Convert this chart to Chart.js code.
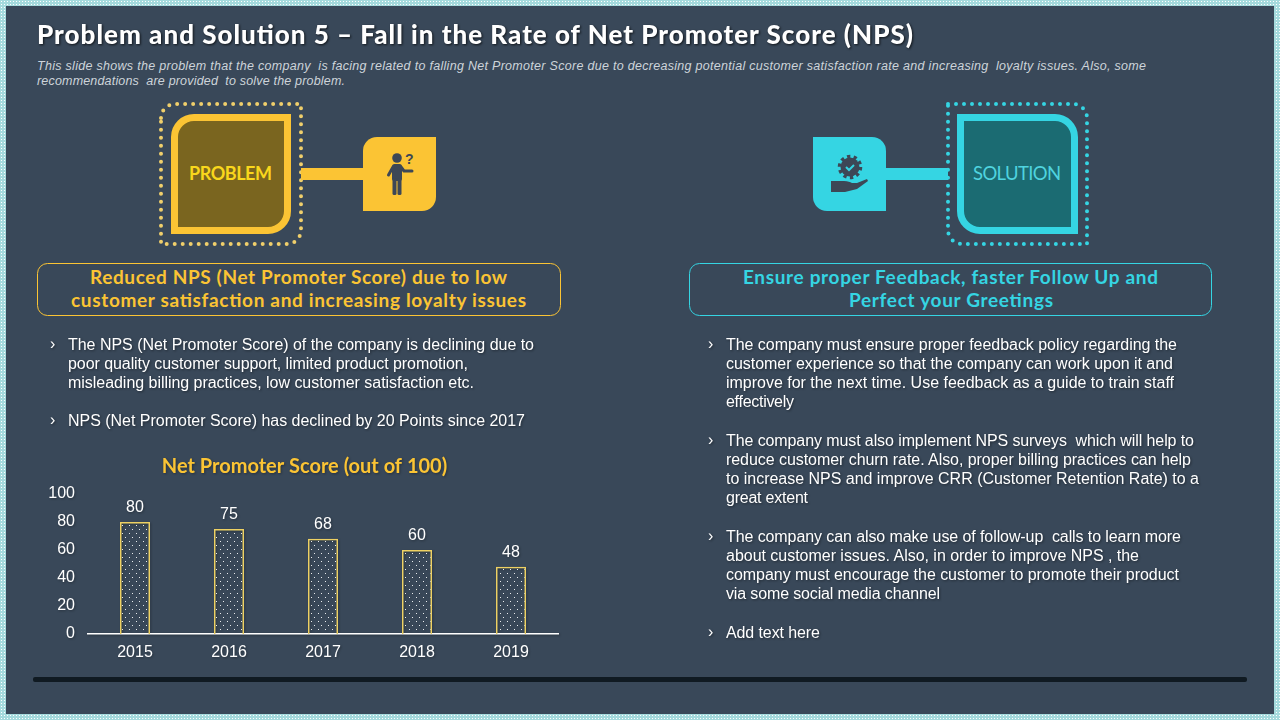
<!DOCTYPE html>
<html>
<head>
<meta charset="utf-8">
<style>
  html, body { margin: 0; padding: 0; width: 1280px; height: 720px; overflow: hidden; background: #a5dadd; }
  #frame { position: absolute; left: 0; top: 0; width: 1280px; height: 720px;
    background-image: radial-gradient(#ffffff 0.7px, transparent 0.8px); background-size: 3px 3px; }
  #panel { position: absolute; left: 6px; top: 6px; width: 1268px; height: 708px; background: #394859; }
  svg { position: absolute; left: 0; top: 0; }
  svg text { white-space: pre; font-feature-settings: "liga" 0, "clig" 0, "dlig" 0; }
  .body { font: 16px "Liberation Sans", sans-serif; fill: #fff; filter: drop-shadow(1px 1px 1px rgba(0,0,0,.4)); }
  .title { font: 900 26px Lato, sans-serif; fill: #fff; filter: drop-shadow(1px 1px 1px rgba(0,0,0,.7)); }
  .desc { font: italic 12.5px "Liberation Sans", sans-serif; fill: #cdd4da; }
  .head { font: 700 19px Lato, sans-serif; }
  .tag { font: 700 18px Lato, sans-serif; }
  .tag2 { font: 400 18.5px Lato, sans-serif; }
  #chart { position: absolute; left: 30px; top: 452px; filter: drop-shadow(1px 1px 1px rgba(0,0,0,.3)); }
</style>
</head>
<body>
<div id="frame"></div>
<div id="panel"></div>
<svg id="art" width="1280" height="720" xmlns="http://www.w3.org/2000/svg">
  <!-- problem badge -->
  <path d="M161 118a14 14 0 0 1 14-14H301V230a14 14 0 0 1-14 14H161Z" fill="none" stroke="#f0cf6b" stroke-width="4" stroke-linecap="round" stroke-dasharray="0 8"/>
  <path d="M174.500 137a19.500 19.500 0 0 1 19.500-19.500H287.500V211a19.500 19.500 0 0 1-19.500 19.500H174.500Z" fill="#7a651f" stroke="#fbc434" stroke-width="7"/>
  <rect x="301" y="168" width="64" height="12" fill="#fbc434"/>
  <path d="M363 151a14 14 0 0 1 14-14H436V197a14 14 0 0 1-14 14H363Z" fill="#fbc434"/>
  <g fill="#3d4756" stroke="none">
    <circle cx="397" cy="158" r="4.800"/>
    <rect x="392" y="164" width="10" height="17" rx="2.500"/>
    <path d="M393 167L388.500 175M401 167L404 171H412" fill="none" stroke="#3d4756" stroke-width="3" stroke-linecap="round" stroke-linejoin="round"/>
    <rect x="392.500" y="178" width="4" height="17" rx="1.500"/>
    <rect x="397.500" y="178" width="4" height="17" rx="1.500"/>
    <text x="405" y="164" style="font:700 14px 'Liberation Sans',sans-serif">?</text>
  </g>
  <!-- solution badge -->
  <path d="M948 104H1073a14 14 0 0 1 14 14V244H962a14 14 0 0 1-14-14Z" fill="none" stroke="#35d5e3" stroke-width="4" stroke-linecap="round" stroke-dasharray="0 8"/>
  <path d="M960.500 117.500H1055a19.500 19.500 0 0 1 19.500 19.500V230.500H980a19.500 19.500 0 0 1-19.500-19.500Z" fill="#1b6b72" stroke="#35d5e3" stroke-width="7"/>
  <rect x="884" y="168" width="64" height="12" fill="#35d5e3"/>
  <path d="M813 137H872a14 14 0 0 1 14 14V211H827a14 14 0 0 1-14-14Z" fill="#35d5e3"/>
  <g fill="#3d4756">
    <circle cx="850" cy="167" r="9.500"/>
    <circle cx="850" cy="167" r="10.500" fill="none" stroke="#3d4756" stroke-width="3.500" stroke-dasharray="3.300 3.300"/>
    <path d="M846 167l3 3 5-5" fill="none" stroke="#35d5e3" stroke-width="2"/>
    <path d="M831 181h13c4 0 6 1 8 2h5l10-4 1 2-11 8-12 3H831Z"/>
  </g>
  <!-- callout boxes -->
  <rect x="37.500" y="263.500" width="523" height="52" rx="10" fill="none" stroke="#fbc434"/>
  <rect x="689.500" y="263.500" width="522" height="52" rx="10" fill="none" stroke="#35d5e3"/>
  <!-- footer rule -->
  <rect x="33" y="677" width="1214" height="5" rx="2" fill="#101a22"/>
</svg>
<canvas id="chart" width="548" height="218"></canvas>
<script src="https://cdn.jsdelivr.net/npm/chart.js@4"></script>
<script>
const years = ['2015', '2016', '2017', '2018', '2019'];
const scores = [80, 75, 68, 60, 48];
const yMax = 100;
const yStep = 20;
const chartTitle = 'Net Promoter Score (out of 100)';

// [text, left, right, vertical centre]
const bodyLines = [
  ['The NPS (Net Promoter Score) of the company is declining due to', 68, 534, 344],
  ['poor quality customer support, limited product promotion,', 68, 468, 363],
  ['misleading billing practices, low customer satisfaction etc.', 68, 474, 382],
  ['NPS (Net Promoter Score) has declined by 20 Points since 2017', 68, 525, 420],
  ['The company must ensure proper feedback policy regarding the', 726, 1177, 344],
  ['customer experience so that the company can work upon it and', 726, 1173, 363],
  ['improve for the next time. Use feedback as a guide to train staff', 726, 1174, 382],
  ['effectively', 726, 794, 401],
  ['The company must also implement NPS surveys  which will help to', 726, 1194, 440],
  ['reduce customer churn rate. Also, proper billing practices can help', 726, 1191, 459],
  ['to increase NPS and improve CRR (Customer Retention Rate) to a', 726, 1199, 478],
  ['great extent', 726, 808, 497],
  ['The company can also make use of follow-up  calls to learn more', 726, 1181, 536],
  ['about customer issues. Also, in order to improve NPS , the', 726, 1139, 555],
  ['company must encourage the customer to promote their product', 726, 1179, 574],
  ['via some social media channel', 726, 940, 593],
  ['Add text here', 726, 820, 632]
];
const bullets = [[50, 344], [50, 420], [708, 344], [708, 440], [708, 536], [708, 632]];

const art = document.getElementById('art');
function addText(cls, str, x, y, width, fill) {
  const t = document.createElementNS('http://www.w3.org/2000/svg', 'text');
  t.setAttribute('class', cls);
  t.setAttribute('x', x);
  t.setAttribute('y', y);
  if (width) {
    t.setAttribute('textLength', width);
    t.setAttribute('lengthAdjust', 'spacing');
  }
  if (fill) t.setAttribute('style', 'fill:' + fill);
  t.textContent = str;
  art.appendChild(t);
}

addText('title', 'Problem and Solution 5 – Fall in the Rate of Net Promoter Score (NPS)', 37, 44, 876);
addText('desc', 'This slide shows the problem that the company  is facing related to falling Net Promoter Score due to decreasing potential customer satisfaction rate and increasing  loyalty issues. Also, some', 37, 70, 1109);
addText('desc', 'recommendations  are provided  to solve the problem.', 37, 85, 308);
addText('head', 'Reduced NPS (Net Promoter Score) due to low', 90, 284, 417, '#fbc434');
addText('head', 'customer satisfaction and increasing loyalty issues', 71, 307, 455, '#fbc434');
addText('head', 'Ensure proper Feedback, faster Follow Up and', 743, 284, 415, '#35d5e3');
addText('head', 'Perfect your Greetings', 849, 307, 204, '#35d5e3');
addText('tag', 'PROBLEM', 189, 180, 83, '#f9d71c');
addText('tag2', 'SOLUTION', 973, 180, 88, '#4fd3df');
bodyLines.forEach(l => addText('body', l[0], l[1], l[3] + 5.5, l[2] - l[1]));
bullets.forEach(b => addText('body', '›', b[0], b[1] + 5));

// dotted bar fill, staggered rows
function dotPattern(ctx) {
  const tile = document.createElement('canvas');
  tile.width = 7;
  tile.height = 8;
  const t = tile.getContext('2d');
  t.fillStyle = 'rgba(255,255,255,.9)';
  t.fillRect(1, 1, 1, 1);
  t.fillRect(4, 5, 1, 1);
  return ctx.createPattern(tile, 'repeat');
}

// title sits a little right of the plot centre in the reference
const shiftTitle = {
  id: 'shiftTitle',
  afterLayout(chart) {
    chart.titleBlock.left += 10.5;
    chart.titleBlock.right += 10.5;
  }
};

const valueLabels = {
  id: 'valueLabels',
  afterDatasetsDraw(chart) {
    const ctx = chart.ctx;
    ctx.save();
    ctx.font = '16px "Liberation Sans", sans-serif';
    ctx.fillStyle = '#fff';
    ctx.textAlign = 'center';
    ctx.textBaseline = 'middle';
    chart.getDatasetMeta(0).data.forEach((bar, i) => {
      ctx.fillText(scores[i], bar.x, bar.y - 14);
    });
    ctx.restore();
  }
};

const canvas = document.getElementById('chart');
new Chart(canvas, {
  type: 'bar',
  data: {
    labels: years,
    datasets: [{
      data: scores,
      backgroundColor: dotPattern(canvas.getContext('2d')),
      borderColor: '#eed163',
      borderWidth: 1.5,
      barPercentage: 0.64,
      categoryPercentage: 0.5
    }]
  },
  options: {
    responsive: false,
    animation: false,
    devicePixelRatio: 1,
    layout: { padding: { right: 20, left: 0, top: 0, bottom: 0 } },
    plugins: {
      legend: { display: false },
      tooltip: { enabled: false },
      title: {
        display: true,
        text: chartTitle,
        color: '#fbc434',
        font: { family: 'Lato', weight: '700', size: 20 },
        padding: { top: 3, bottom: 15 }
      }
    },
    scales: {
      x: {
        grid: { display: false, tickLength: 0 },
        border: { color: '#fff', width: 1.5 },
        ticks: { color: '#fff', font: { family: 'Liberation Sans', size: 16 }, padding: 9, maxRotation: 0 },
        afterFit(scale) { scale.height = 36; }
      },
      y: {
        min: 0,
        max: yMax,
        grid: { display: false, tickLength: 0 },
        border: { display: false },
        ticks: { stepSize: yStep, color: '#fff', font: { family: 'Liberation Sans', size: 16 }, padding: 13 },
        afterFit(scale) { scale.width = 58; }
      }
    }
  },
  plugins: [valueLabels, shiftTitle]
});
</script>
</body>
</html>
